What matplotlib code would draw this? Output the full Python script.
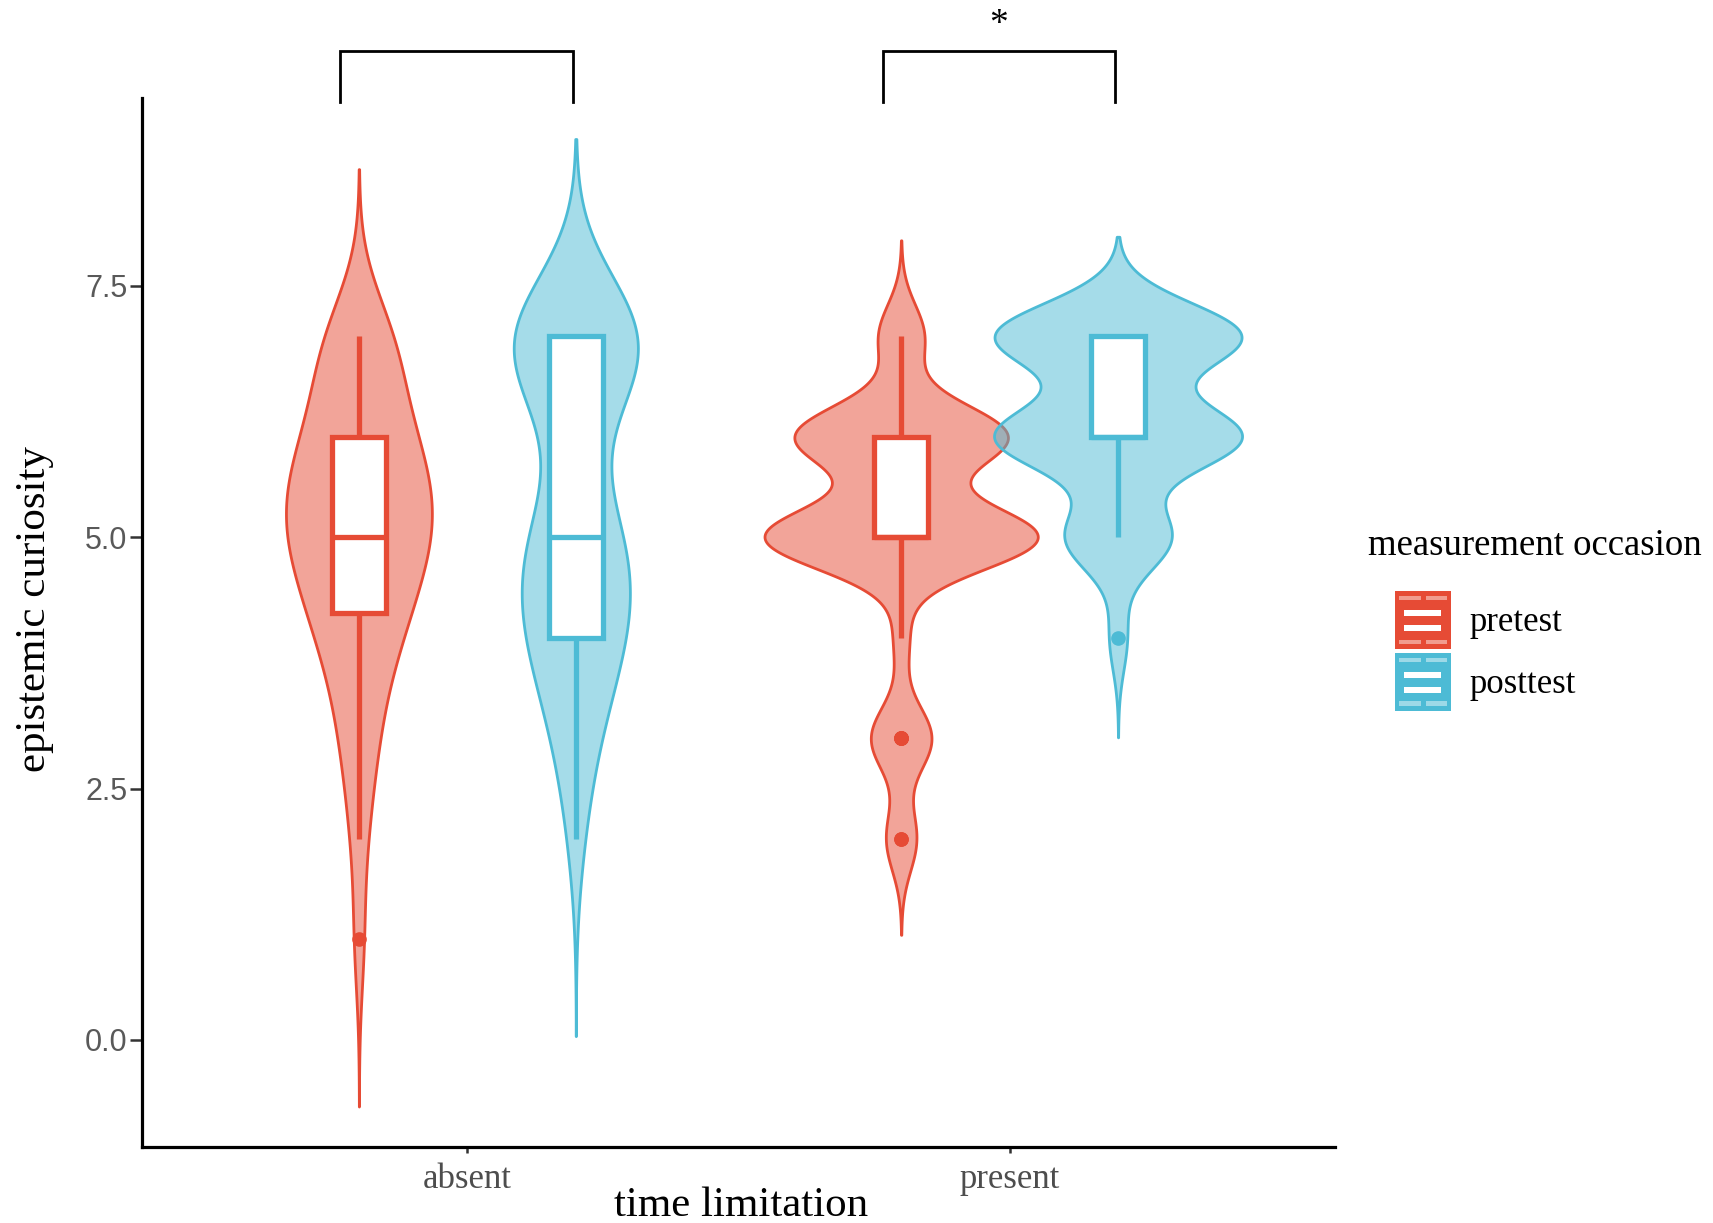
import numpy as np
import matplotlib
matplotlib.use("Agg")
import matplotlib.pyplot as plt
from matplotlib.patches import Rectangle, Patch
from matplotlib.legend_handler import HandlerBase

# ---------------- data ----------------
conditions = ["absent", "present"]
occasions = ["pretest", "posttest"]
half_scores = [1, 1.5, 2, 2.5, 3, 3.5, 4, 4.5, 5, 5.5, 6, 6.5, 7]
# number of participants per score on the grid above
counts_absent_pretest = [1, 0, 1, 1, 2, 2, 4, 5, 7, 7, 5, 3, 5]
counts_absent_posttest = [0, 0, 1, 1, 2, 3, 5, 5, 6, 1, 1, 3, 14]
counts_present_pretest = [0, 0, 2, 0, 4, 0, 1, 0, 18, 0, 14, 0, 3]
counts_present_posttest = [0, 0, 0, 0, 0, 0, 1, 0, 6, 0, 14, 0, 14]
significance = ["", "*"]
y_ticks = [0.0, 2.5, 5.0, 7.5]

x_label = "time limitation"
y_label = "epistemic curiosity"
legend_title = "measurement occasion"

# ---------------- style ----------------
line_colors = ["#E64B35", "#4DBBD5"]
dodge = 0.2
max_half_width = 0.252
box_width = 0.1
serif = ["Liberation Serif", "DejaVu Serif"]
sans = ["Liberation Sans", "DejaVu Sans"]

groups = {
    ("absent", "pretest"): counts_absent_pretest,
    ("absent", "posttest"): counts_absent_posttest,
    ("present", "pretest"): counts_present_pretest,
    ("present", "posttest"): counts_present_posttest,
}


def nrd0(x):
    x = np.asarray(x, float)
    sd = x.std(ddof=1)
    q75, q25 = np.percentile(x, [75, 25])
    lo = min(sd, (q75 - q25) / 1.34)
    return 0.9 * lo * len(x) ** (-0.2)


def kde(x, bw):
    grid = np.linspace(x.min() - 3 * bw, x.max() + 3 * bw, 512)
    d = np.exp(-0.5 * ((grid[:, None] - x[None, :]) / bw) ** 2).sum(1)
    d /= len(x) * bw * np.sqrt(2 * np.pi)
    return grid, d


fig = plt.figure(figsize=(17.13, 12.23), dpi=100)
ax = fig.add_axes([0.0829, 0.0621, 0.7793 - 0.0829, 0.9199 - 0.0621])

dens = {}
for key, cnt in groups.items():
    data = np.repeat(half_scores, cnt).astype(float)
    g, d = kde(data, nrd0(data))
    dens[key] = (data, g, d)
gmax = max(v[2].max() for v in dens.values())

# violins
for ci, cond in enumerate(conditions):
    for oi, occ in enumerate(occasions):
        data, g, d = dens[(cond, occ)]
        pos = ci + 1 + (oi - 0.5) * 2 * dodge
        hw = d / gmax * max_half_width
        col = line_colors[oi]
        ax.fill_betweenx(g, pos - hw, pos + hw, facecolor=matplotlib.colors.to_rgba(col, 0.5),
                         edgecolor=col, linewidth=2.0, zorder=2)

# boxplots
for ci, cond in enumerate(conditions):
    for oi, occ in enumerate(occasions):
        data = dens[(cond, occ)][0]
        pos = ci + 1 + (oi - 0.5) * 2 * dodge
        col = line_colors[oi]
        ax.boxplot(data, positions=[pos], widths=box_width, whis=1.5, patch_artist=True,
                   manage_ticks=False, showcaps=False,
                   boxprops=dict(facecolor="white", edgecolor=col, linewidth=3.8),
                   whiskerprops=dict(color=col, linewidth=3.8, solid_capstyle="butt"),
                   medianprops=dict(color=col, linewidth=3.8, solid_capstyle="butt"),
                   flierprops=dict(marker="o", markerfacecolor=col, markeredgecolor=col,
                                   markersize=9.5),
                   zorder=3)

# significance brackets
for ci, lab in enumerate(significance):
    x0 = ci + 1 - dodge - 0.034
    x1 = ci + 1 + dodge - 0.006
    ax.plot([x0, x0, x1, x1], [9.33, 9.84, 9.84, 9.33], color="black", lw=2.0,
            clip_on=False, solid_joinstyle="miter", zorder=5)
    if lab:
        ax.text((x0 + x1) / 2, 10.1, lab, ha="center", va="center", fontsize=27,
                family=serif, clip_on=False)

ax.set_xlim(0.4, 2.6)
ax.set_ylim(-1.065, 9.37)
ax.set_xticks([1, 2])
ax.set_xticklabels(conditions, family=serif, fontsize=25, color="#4d4d4d")
ax.set_yticks(y_ticks)
ax.set_yticklabels([f"{t:.1f}" for t in y_ticks], family=sans, fontsize=22, color="#595959")
ax.tick_params(axis="y", length=8.5, width=1.8, color="#333333", pad=2)
ax.tick_params(axis="x", length=4.5, width=1.8, color="#333333", pad=7)
for s in ["top", "right"]:
    ax.spines[s].set_visible(False)
for s in ["left", "bottom"]:
    ax.spines[s].set_linewidth(2.3)
    ax.spines[s].set_color("black")

fig.text(0.4326, 0.006, x_label, ha="center", va="baseline", fontsize=31, family=serif)
fig.text(0.0205, 0.502, y_label, ha="center", va="center", rotation=90, fontsize=31,
         family=serif)


class BoxViolinHandler(HandlerBase):
    def create_artists(self, legend, orig_handle, xdescent, ydescent, width, height,
                       fontsize, trans):
        col = orig_handle.get_edgecolor()
        fill = orig_handle.get_facecolor()
        x0, y0 = -xdescent, -ydescent
        arts = [Rectangle((x0, y0), width, height, facecolor=col, edgecolor="none",
                          transform=trans)]
        for yb in (0.31, 0.57):
            arts.append(Rectangle((x0 + 0.17 * width, y0 + yb * height), 0.66 * width,
                                  0.1 * height, facecolor="white", edgecolor="none",
                                  transform=trans))
        for yb in (0.09, 0.84):
            for xa, xb in ((0.07, 0.46), (0.56, 0.94)):
                arts.append(Rectangle((x0 + xa * width, y0 + yb * height),
                                      (xb - xa) * width, 0.07 * height,
                                      facecolor=(1, 1, 1, 0.45), edgecolor="none",
                                      transform=trans))
        return arts


fig.text(1368 / 1713, 1 - 546 / 1223, legend_title, ha="left", va="center", fontsize=26.5,
         family=serif)
handles = [Patch(facecolor=matplotlib.colors.to_rgba(c, 0.5), edgecolor=c) for c in line_colors]
leg = fig.legend(handles, occasions, loc="upper left",
                 bbox_to_anchor=(1395 / 1713, 1 - 591 / 1223), frameon=False,
                 prop=dict(family=serif, size=25),
                 handler_map={Patch: BoxViolinHandler()}, handlelength=1.6, handleheight=2.2,
                 labelspacing=0.1, handletextpad=0.55, borderpad=0, borderaxespad=0)

fig.savefig("out.png", dpi=100)
